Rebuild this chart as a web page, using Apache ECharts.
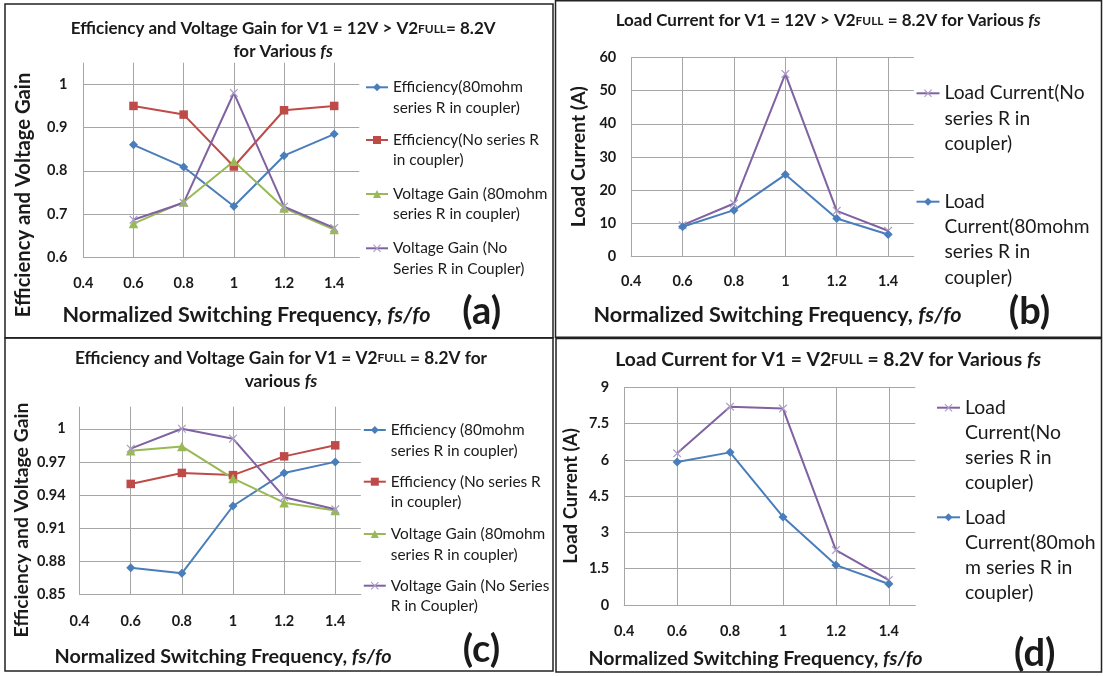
<!DOCTYPE html>
<html>
<head>
<meta charset="utf-8">
<script src="https://cdn.jsdelivr.net/npm/echarts@6/dist/echarts.min.js"></script>
<style>
html,body{margin:0;padding:0;background:#fff;}
#chart{width:1103px;height:676px;}
</style>
</head>
<body>
<div id="chart"></div>
<script>
// ---------- data ----------
const xValues = [0.6, 0.8, 1.0, 1.2, 1.4];
const xTicks = [0.4, 0.6, 0.8, 1.0, 1.2, 1.4];

// (a) V1 = 12V > V2full = 8.2V
const aEff80 = [0.86, 0.809, 0.718, 0.835, 0.885];
const aEffNo = [0.95, 0.93, 0.81, 0.94, 0.95];
const aGain80 = [0.678, 0.728, 0.822, 0.714, 0.664];
const aGainNo = [0.687, 0.726, 0.98, 0.717, 0.668];
const aYTicks = [0.6, 0.7, 0.8, 0.9, 1.0];

// (b) load current, V1 = 12V
const bCurNo = [9.5, 16, 55, 13.8, 7.8];
const bCur80 = [9.0, 14.0, 24.7, 11.5, 6.7];
const bYTicks = [0, 10, 20, 30, 40, 50, 60];

// (c) V1 = V2full = 8.2V
const cEff80 = [0.874, 0.869, 0.930, 0.960, 0.970];
const cEffNo = [0.950, 0.960, 0.958, 0.975, 0.985];
const cGain80 = [0.980, 0.984, 0.955, 0.933, 0.926];
const cGainNo = [0.982, 1.0, 0.991, 0.938, 0.927];
const cYTicks = [0.85, 0.88, 0.91, 0.94, 0.97, 1.0];

// (d) load current, V1 = V2full
const dCurNo = [6.27, 8.2, 8.12, 2.27, 1.03];
const dCur80 = [5.91, 6.31, 3.64, 1.65, 0.87];
const dYTicks = [0, 1.5, 3, 4.5, 6, 7.5, 9];

// legend labels (display text with original line breaks)
const legendText = {
  aEff80: 'Efficiency(80mohm\nseries R in coupler)',
  aEffNo: 'Efficiency(No series R\nin coupler)',
  aGain80: 'Voltage Gain (80mohm\nseries R in coupler)',
  aGainNo: 'Voltage Gain (No\nSeries R in Coupler)',
  bCurNo: 'Load Current(No\nseries R in\ncoupler)',
  bCur80: 'Load\nCurrent(80mohm\nseries R in\ncoupler)',
  cEff80: 'Efficiency (80mohm\nseries R in coupler)',
  cEffNo: 'Efficiency (No series R\nin coupler)',
  cGain80: 'Voltage Gain (80mohm\nseries R in coupler)',
  cGainNo: 'Voltage Gain (No Series\nR in Coupler)',
  dCurNo: 'Load\nCurrent(No\nseries R in\ncoupler)',
  dCur80: 'Load\nCurrent(80moh\nm series R in\ncoupler)'
};

// ---------- styles ----------
const FONT = 'Lato, "Open Sans", sans-serif';
const TXT = '#1a1a1a';
const GRIDC = '#a6a6a6';
const BLUE = '#4a7ebb', RED = '#be4b48', GREEN = '#98b954', PURPLE = '#7f62a1', XMARK = '#ad9ccb';
const XPATH = 'path://M0,1L1,0L5,4L9,0L10,1L6,5L10,9L9,10L5,6L1,10L0,9L4,5Z';

const styleOf = {
  eff80: {color: BLUE, symbol: 'diamond', size: 9, mcolor: BLUE},
  effNo: {color: RED, symbol: 'rect', size: 8.5, mcolor: RED},
  gain80: {color: GREEN, symbol: 'triangle', size: 9.5, mcolor: GREEN},
  gainNo: {color: PURPLE, symbol: XPATH, size: 8.5, mcolor: XMARK}
};

function pairs(ys) { return xValues.map((x, i) => [x, ys[i]]); }

function mkSeries(key, kind, ys, gi) {
  const st = styleOf[kind];
  return {
    name: key, type: 'line', xAxisIndex: gi, yAxisIndex: gi,
    data: pairs(ys), symbol: st.symbol, symbolSize: st.size,
    showAllSymbol: true, silent: true, animation: false,
    lineStyle: {color: st.color, width: 2},
    itemStyle: {color: st.mcolor}
  };
}

const grids = [
  {left: 83.3, top: 62.7, width: 276, height: 194.6},
  {left: 631.2, top: 57.3, width: 282.6, height: 199.4},
  {left: 79.6, top: 406.7, width: 281.2, height: 187.6},
  {left: 624.2, top: 387.3, width: 291.1, height: 217.7}
];
const yCfg = [
  {min: 0.6, max: 1.05, interval: 0.1, hideMax: true, margin: 16},
  {min: 0, max: 60, interval: 10, hideMax: false, margin: 15},
  {min: 0.85, max: 1.02, interval: 0.03, hideMax: true, margin: 14},
  {min: 0, max: 9, interval: 1.5, hideMax: false, margin: 15}
];
const xMargins = [19, 17.5, 19.5, 18.5];

const labelStyle = {fontFamily: FONT, fontWeight: 'bold', fontSize: 14.5, color: TXT};

const xAxes = grids.map((g, i) => ({
  type: 'value', gridIndex: i, min: 0.4, max: 1.5, interval: 0.2,
  axisLine: {show: true, onZero: false, lineStyle: {color: GRIDC, width: 1}},
  axisTick: {show: false},
  splitLine: {show: true, showMaxLine: false, lineStyle: {color: GRIDC, width: 1}},
  axisLabel: Object.assign({margin: xMargins[i], showMaxLabel: false}, labelStyle)
}));
const yAxes = yCfg.map((c, i) => ({
  type: 'value', gridIndex: i, min: c.min, max: c.max, interval: c.interval,
  axisLine: {show: false},
  axisTick: {show: false},
  splitLine: {show: true, showMaxLine: !c.hideMax, lineStyle: {color: GRIDC, width: 1}},
  axisLabel: Object.assign({margin: c.margin, showMaxLabel: !c.hideMax}, labelStyle)
}));

const series = [
  mkSeries('aEff80', 'eff80', aEff80, 0),
  mkSeries('aEffNo', 'effNo', aEffNo, 0),
  mkSeries('aGain80', 'gain80', aGain80, 0),
  mkSeries('aGainNo', 'gainNo', aGainNo, 0),
  mkSeries('bCurNo', 'gainNo', bCurNo, 1),
  mkSeries('bCur80', 'eff80', bCur80, 1),
  mkSeries('cEff80', 'eff80', cEff80, 2),
  mkSeries('cEffNo', 'effNo', cEffNo, 2),
  mkSeries('cGain80', 'gain80', cGain80, 2),
  mkSeries('cGainNo', 'gainNo', cGainNo, 2),
  mkSeries('dCurNo', 'gainNo', dCurNo, 3),
  mkSeries('dCur80', 'eff80', dCur80, 3)
];

// legends: one per item; blank leading lines keep the marker on the first text line
function mkLegend(key, left, firstLineY, fs, lh, iw) {
  const n = legendText[key].split('\n').length;
  return {
    data: [key], left: left, top: firstLineY - (2 * n - 1) * lh / 2,
    padding: 0, itemWidth: iw, itemHeight: 10, selectedMode: false,
    formatter: (name) => ' \n'.repeat(n - 1) + legendText[name],
    textStyle: {fontFamily: FONT, fontSize: fs, color: TXT, lineHeight: lh}
  };
}
const legends = [
  mkLegend('aEff80', 365, 87.3, 15.4, 20.3, 22),
  mkLegend('aEffNo', 365, 140, 15.4, 20.3, 22),
  mkLegend('aGain80', 365, 194, 15.4, 20.3, 22),
  mkLegend('aGainNo', 365, 248.3, 15.4, 20.3, 22),
  mkLegend('bCurNo', 915.5, 93.3, 19.2, 25.3, 23),
  mkLegend('bCur80', 915.5, 201.7, 19.2, 25.3, 23),
  mkLegend('cEff80', 362.8, 430, 15.4, 20.6, 22),
  mkLegend('cEffNo', 362.8, 481.7, 15.4, 20.6, 22),
  mkLegend('cGain80', 362.8, 534, 15.4, 20.6, 22),
  mkLegend('cGainNo', 362.8, 585.7, 15.4, 20.6, 22),
  mkLegend('dCurNo', 936, 407.7, 19.4, 25, 23),
  mkLegend('dCur80', 936, 517.3, 19.4, 25, 23)
];

function richSet(fs) {
  return {
    b: {fontFamily: FONT, fontWeight: 'bold', fontSize: fs, color: TXT},
    s: {fontFamily: FONT, fontWeight: 'bold', fontSize: fs * 0.7, color: TXT},
    i: {fontFamily: FONT, fontWeight: 'bold', fontStyle: 'italic', fontSize: fs, color: TXT}
  };
}
function mkTitle(text, x, y, fs, lh) {
  return {
    text: text, left: x, top: y, textAlign: 'center', textVerticalAlign: 'middle', padding: 0,
    textStyle: {fontFamily: FONT, fontWeight: 'bold', fontSize: fs, color: TXT, lineHeight: lh, rich: richSet(fs)}
  };
}
const titles = [
  mkTitle('{b|Efficiency and Voltage Gain for V1 = 12V > V2}{s|FULL}{b|= 8.2V}\n{b|for Various }{i|fs}', 283.2, 40.5, 17, 23),
  mkTitle('{b|Load Current for V1 = 12V > V2}{s|FULL}{b| = 8.2V for Various }{i|fs}', 828.2, 20.7, 17, 20),
  mkTitle('{b|Efficiency and Voltage Gain for V1 = V2}{s|FULL}{b| = 8.2V for}\n{b|various }{i|fs}', 281, 369.7, 17.3, 22.7),
  mkTitle('{b|Load Current for V1 = V2}{s|FULL}{b| = 8.2V for Various }{i|fs}', 828.2, 360, 19.3, 22)
];

function txt(text, x, y, fs, rot) {
  return {
    type: 'text', x: x, y: y, rotation: rot ? Math.PI / 2 : 0, silent: true,
    style: {text: text, align: 'center', verticalAlign: 'middle',
            fontFamily: FONT, fontWeight: 'bold', fontSize: fs, fill: TXT, rich: richSet(fs)}
  };
}
function box(x, y, w, h) {
  return {type: 'rect', shape: {x: x, y: y, width: w, height: h}, silent: true,
          style: {fill: 'none', stroke: '#222', lineWidth: 1.5}};
}
const XNAME = '{b|Normalized Switching Frequency, }{i|fs/fo}';
const graphics = [
  box(5, 4, 548, 333.7), box(555.5, 0.8, 546, 336.5), box(5, 338, 548, 333), box(556, 338.5, 545.5, 333.5),
  txt('Efficiency and Voltage Gain', 23, 195, 20.2, true),
  txt('Load Current (A)', 578.8, 156.7, 19.4, true),
  txt('Efficiency and Voltage Gain', 22, 520, 19.4, true),
  txt('Load Current (A)', 570.7, 496, 18.6, true),
  txt(XNAME, 246.5, 315, 21.6),
  txt(XNAME, 777.5, 315, 21.6),
  txt(XNAME, 223, 656.7, 19.8),
  txt(XNAME, 755.5, 658.3, 19.6),
  txt('(a)', 481.7, 312, 38),
  txt('(b)', 1029.5, 311.7, 38),
  txt('(c)', 481.4, 650, 38),
  txt('(d)', 1034.7, 653.3, 38)
];

const chart = echarts.init(document.getElementById('chart'), null, {renderer: 'canvas'});
chart.setOption({
  backgroundColor: '#ffffff',
  animation: false,
  title: titles,
  grid: grids,
  xAxis: xAxes,
  yAxis: yAxes,
  legend: legends,
  series: series,
  graphic: graphics
});
</script>
</body>
</html>
